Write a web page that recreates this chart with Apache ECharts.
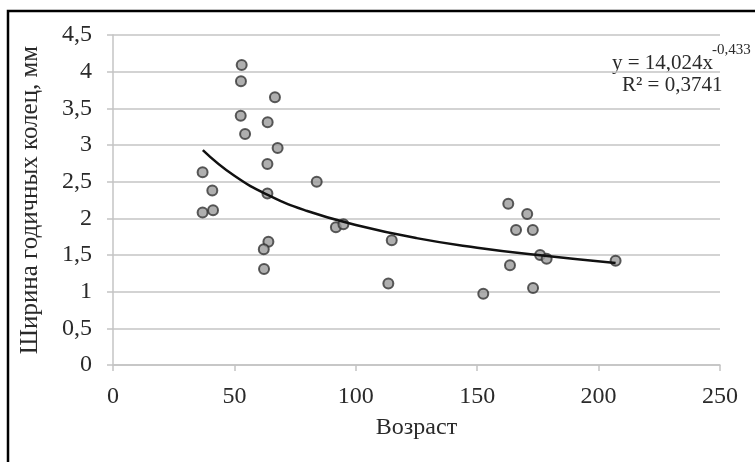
<!DOCTYPE html>
<html>
<head>
<meta charset="utf-8">
<script src="https://cdn.jsdelivr.net/npm/echarts@6/dist/echarts.min.js"></script>
<style>
  html, body { margin: 0; padding: 0; background: #fff; }
  #chart { width: 755px; height: 462px; }
</style>
</head>
<body>
<div id="chart"></div>
<script>
// возраст / ширина годичных колец
const ages = [53, 52.7, 66.7, 52.6, 63.7, 54.4, 67.8, 63.6, 36.9, 40.9, 36.9, 41.2, 63.6, 64.0, 62.1, 62.2,
  83.9, 91.8, 94.9, 114.8, 113.4, 162.8, 170.6, 166, 172.9, 175.9, 178.6, 163.5, 152.5, 173, 207]
const widths = [4.09, 3.87, 3.65, 3.40, 3.31, 3.15, 2.96, 2.74, 2.63, 2.38, 2.08, 2.11, 2.34, 1.68, 1.58, 1.31,
  2.50, 1.88, 1.92, 1.70, 1.11, 2.20, 2.06, 1.84, 1.84, 1.50, 1.45, 1.36, 0.97, 1.05, 1.42]

// power trendline, points
const trendX = [37, 50, 65, 80, 100, 125, 150, 175, 207]
const trendY = [2.93, 2.58, 2.30, 2.10, 1.91, 1.73, 1.60, 1.50, 1.39]

const xTicks = { min: 0, max: 250, interval: 50 }
const yTicks = { min: 0, max: 4.5, interval: 0.5 }

const gridColor = '#c4c4c4'
const textColor = '#2a2a2a'
const font = '"Liberation Serif", "Times New Roman", serif'

const fmt = v => String(v).replace('.', ',')

const chart = echarts.init(document.getElementById('chart'))
chart.setOption({
  backgroundColor: '#fff',
  animation: false,
  textStyle: { fontFamily: font },
  grid: { left: 113, right: 35, top: 35, bottom: 97 },
  xAxis: {
    type: 'value',
    min: xTicks.min,
    max: xTicks.max,
    interval: xTicks.interval,
    name: 'Возраст',
    nameLocation: 'middle',
    nameGap: 51,
    nameTextStyle: { color: textColor, fontSize: 24, fontFamily: font },
    axisLine: { show: true, lineStyle: { color: gridColor, width: 1.5 } },
    axisTick: { show: true, length: 6, lineStyle: { color: gridColor, width: 1.5 } },
    axisLabel: { color: textColor, fontSize: 24, fontFamily: font, margin: 20 },
    splitLine: { show: false }
  },
  yAxis: {
    type: 'value',
    min: yTicks.min,
    max: yTicks.max,
    interval: yTicks.interval,
    name: 'Ширина годичных колец, мм',
    nameLocation: 'middle',
    nameGap: 70,
    nameTextStyle: { color: textColor, fontSize: 25, fontFamily: font },
    axisLine: { show: true, lineStyle: { color: gridColor, width: 1.5 } },
    axisTick: { show: true, length: 6, lineStyle: { color: gridColor, width: 1.5 } },
    axisLabel: { color: textColor, fontSize: 24, fontFamily: font, margin: 21, formatter: fmt },
    splitLine: { show: true, lineStyle: { color: gridColor, width: 1.5 } }
  },
  series: [
    {
      name: 'points',
      type: 'scatter',
      symbol: 'circle',
      symbolSize: 10,
      itemStyle: { color: '#9b9b9b', borderColor: '#333', borderWidth: 2 },
      data: ages.map((a, i) => [a, widths[i]])
    },
    {
      name: 'trend',
      type: 'line',
      smooth: true,
      symbol: 'none',
      z: 5,
      lineStyle: { color: '#111', width: 2.5 },
      data: trendX.map((x, i) => [x, trendY[i]])
    }
  ],
  graphic: [
    {
      type: 'rect',
      silent: true,
      shape: { x: 8, y: 11, width: 800, height: 500 },
      style: { fill: 'none', stroke: '#000', lineWidth: 2.5 }
    },
    {
      type: 'text', left: 612, top: 53,
      style: { text: 'y = 14,024x', font: '21px ' + font, fill: textColor }
    },
    {
      type: 'text', left: 712, top: 43,
      style: { text: '-0,433', font: '15px ' + font, fill: textColor }
    },
    {
      type: 'text', left: 622, top: 75,
      style: { text: 'R² = 0,3741', font: '21px ' + font, fill: textColor }
    }
  ]
})
</script>
</body>
</html>
